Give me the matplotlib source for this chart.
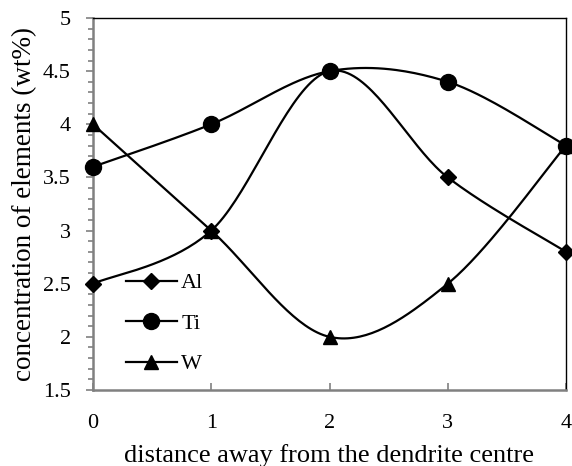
import numpy as np
import matplotlib
matplotlib.use('Agg')
import matplotlib.pyplot as plt

plt.rcParams['font.family'] = ['Liberation Serif', 'DejaVu Serif']

distance = [0, 1, 2, 3, 4]
al = [2.5, 3.0, 4.5, 3.5, 2.8]
ti = [3.6, 4.0, 4.5, 4.4, 3.8]
w = [4.0, 3.0, 2.0, 2.5, 3.8]


def smooth(x, y, n=40):
    # Catmull-Rom style bezier smoothing, like the spreadsheet "smoothed line"
    x = np.asarray(x, float)
    y = np.asarray(y, float)
    px = np.concatenate([[x[0]], x, [x[-1]]])
    py = np.concatenate([[y[0]], y, [y[-1]]])
    xs, ys = [], []
    t = np.linspace(0, 1, n)
    for i in range(1, len(px) - 2):
        p0 = np.array([px[i], py[i]])
        p3 = np.array([px[i + 1], py[i + 1]])
        p1 = p0 + (np.array([px[i + 1], py[i + 1]]) - np.array([px[i - 1], py[i - 1]])) / 6
        p2 = p3 - (np.array([px[i + 2], py[i + 2]]) - np.array([px[i], py[i]])) / 6
        b = ((1 - t) ** 3)[:, None] * p0 + (3 * (1 - t) ** 2 * t)[:, None] * p1 \
            + (3 * (1 - t) * t ** 2)[:, None] * p2 + (t ** 3)[:, None] * p3
        xs.extend(b[:, 0])
        ys.extend(b[:, 1])
    return xs, ys


fig = plt.figure(figsize=(5.72, 4.66), dpi=100)
ax = fig.add_axes([93 / 572, 1 - 390 / 466, 473 / 572, 372 / 466])

for vals, mk, ms, lab in [(al, 'D', 8, 'Al'), (ti, 'o', 11.5, 'Ti'), (w, '^', 10.5, 'W')]:
    sx, sy = smooth(distance, vals)
    ax.plot(sx, sy, color='black', lw=1.6, zorder=2)
    ax.plot(distance, vals, linestyle='none', marker=mk, ms=ms, color='black', zorder=3, clip_on=False)
    ax.plot([], [], color='black', lw=1.6, marker=mk, ms=ms, label=lab)

ax.set_xlim(0, 4)
ax.set_ylim(1.5, 5)
ax.set_xticks(distance)
ax.set_yticks([1.5, 2, 2.5, 3, 3.5, 4, 4.5, 5])
ax.set_yticklabels(['1.5', '2', '2.5', '3', '3.5', '4', '4.5', '5'])
ax.set_yticks(np.arange(1.5, 5.01, 0.1), minor=True)

ax.spines['left'].set_color('#808080')
ax.spines['bottom'].set_color('#808080')
ax.spines['left'].set_linewidth(1.8)
ax.spines['bottom'].set_linewidth(1.8)
ax.spines['top'].set_linewidth(1.0)
ax.spines['right'].set_linewidth(1.0)

ax.tick_params(axis='y', which='major', direction='out', length=5, width=1.2, color='#808080',
               labelsize=16, pad=11)
ax.tick_params(axis='y', which='minor', direction='out', length=3.5, width=1.2, color='#808080')
ax.tick_params(axis='x', which='major', direction='in', length=5, width=1.2, color='#808080',
               labelsize=16, pad=17)

ax.set_xlabel('distance away from the dendrite centre', fontsize=19, labelpad=8)
ax.set_ylabel('concentration of elements (wt%)', fontsize=19.5, labelpad=4)

ax.legend(loc='lower left', bbox_to_anchor=(0.05, 0.018), frameon=False, fontsize=16,
          handlelength=2.3, labelspacing=0.9, handletextpad=0.2, borderaxespad=0)

fig.savefig('out.png', dpi=100)
